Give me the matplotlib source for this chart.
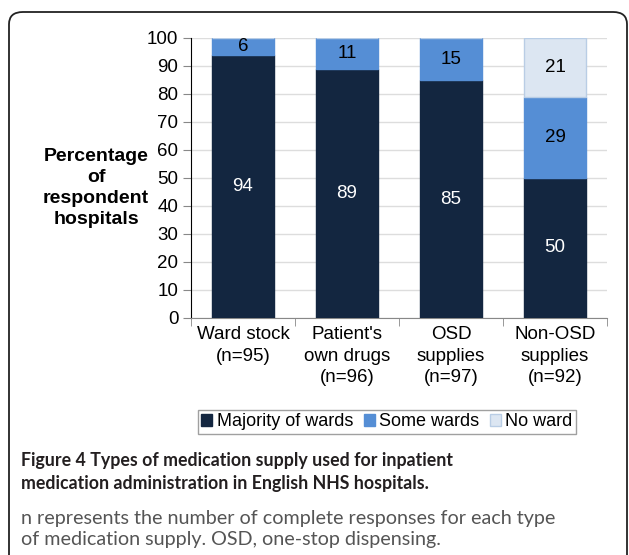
import numpy as np
import matplotlib.pyplot as plt
from matplotlib.patches import FancyBboxPatch

# data
categories = ["Ward stock\n(n=95)", "Patient's\nown drugs\n(n=96)",
              "OSD\nsupplies\n(n=97)", "Non-OSD\nsupplies\n(n=92)"]
majority = [94, 89, 85, 50]
some = [6, 11, 15, 29]
no_ward = [0, 0, 0, 21]

series_names = ["Majority of wards", "Some wards", "No ward"]
colors = ["#132640", "#558ed5", "#dce6f2"]
edge_colors = ["#132640", "#558ed5", "#b9cde5"]
text_colors = ["white", "black", "black"]

plt.rcParams['font.family'] = ['Liberation Sans', 'DejaVu Sans']

fig = plt.figure(figsize=(6.29, 5.55), dpi=100)
W, H = 629, 555

# rounded frame around the figure
frame = FancyBboxPatch((9 / W, -0.05), (627 - 9) / W, (555 - 12) / H + 0.05,
                       boxstyle="round,pad=0,rounding_size=0.022",
                       transform=fig.transFigure, fill=False,
                       edgecolor="#222222", linewidth=1.3)
fig.patches.append(frame)

ax = fig.add_axes([191 / W, (H - 318) / H, (607 - 191) / W, (318 - 38) / H])

x = np.arange(len(categories))
bottom = np.zeros(len(categories))
handles = []
for vals, name, c, ec, tc in zip([majority, some, no_ward], series_names,
                                 colors, edge_colors, text_colors):
    vals = np.array(vals)
    bars = ax.bar(x, vals, width=0.6, bottom=bottom, color=c,
                  edgecolor=ec, linewidth=1, label=name, zorder=3)
    handles.append(bars)
    for xi, v, b in zip(x, vals, bottom):
        if v > 0:
            ax.text(xi, b + v / 2, str(v), ha="center", va="center",
                    fontsize=13.5, color=tc, zorder=4)
    bottom += vals

ax.set_xlim(-0.5, len(categories) - 0.5)
ax.set_ylim(0, 100)
ax.set_yticks(range(0, 101, 10))
ax.tick_params(axis="y", labelsize=13.5, length=6, width=0.8, color="#888888", pad=3)
ax.set_xticks(x)
ax.set_xticklabels(categories, fontsize=13.5, linespacing=1.35)
ax.tick_params(axis="x", length=0, pad=6)
ax.set_xticks(np.arange(-0.5, len(categories), 1), minor=True)
ax.tick_params(axis="x", which="minor", length=6, color="#888888")
ax.grid(axis="y", color="#dddddd", linewidth=1, zorder=0)
for s in ["top", "right"]:
    ax.spines[s].set_visible(False)
ax.spines["left"].set_color("black")
ax.spines["bottom"].set_color("#888888")

fig.text(96 / W, (H - 188) / H, "Percentage\nof\nrespondent\nhospitals",
         ha="center", va="center", fontsize=14, fontweight="bold",
         linespacing=1.3)

leg = fig.legend(handles=handles, labels=series_names, loc="center",
                 bbox_to_anchor=(387 / W, (H - 422) / H), ncol=3,
                 fontsize=13, frameon=True, fancybox=False,
                 handlelength=0.6, handleheight=0.6, handletextpad=0.25,
                 columnspacing=0.6, borderpad=0.2, borderaxespad=0)
leg.get_frame().set_edgecolor("#888888")
leg.get_frame().set_linewidth(1)

cap_font = ['Lato', 'DejaVu Sans']
fig.text(21 / W, (H - 472) / H,
         "Figure 4 Types of medication supply used for inpatient\n"
         "medication administration in English NHS hospitals.",
         ha="left", va="center", fontsize=12.8, fontweight="bold",
         color="#231f20", family=cap_font, linespacing=1.45)
fig.text(21 / W, (H - 529) / H,
         "n represents the number of complete responses for each type\n"
         "of medication supply. OSD, one-stop dispensing.",
         ha="left", va="center", fontsize=14.2, color="#555555",
         family=cap_font, linespacing=1.3)

fig.savefig("out.png", dpi=100)
